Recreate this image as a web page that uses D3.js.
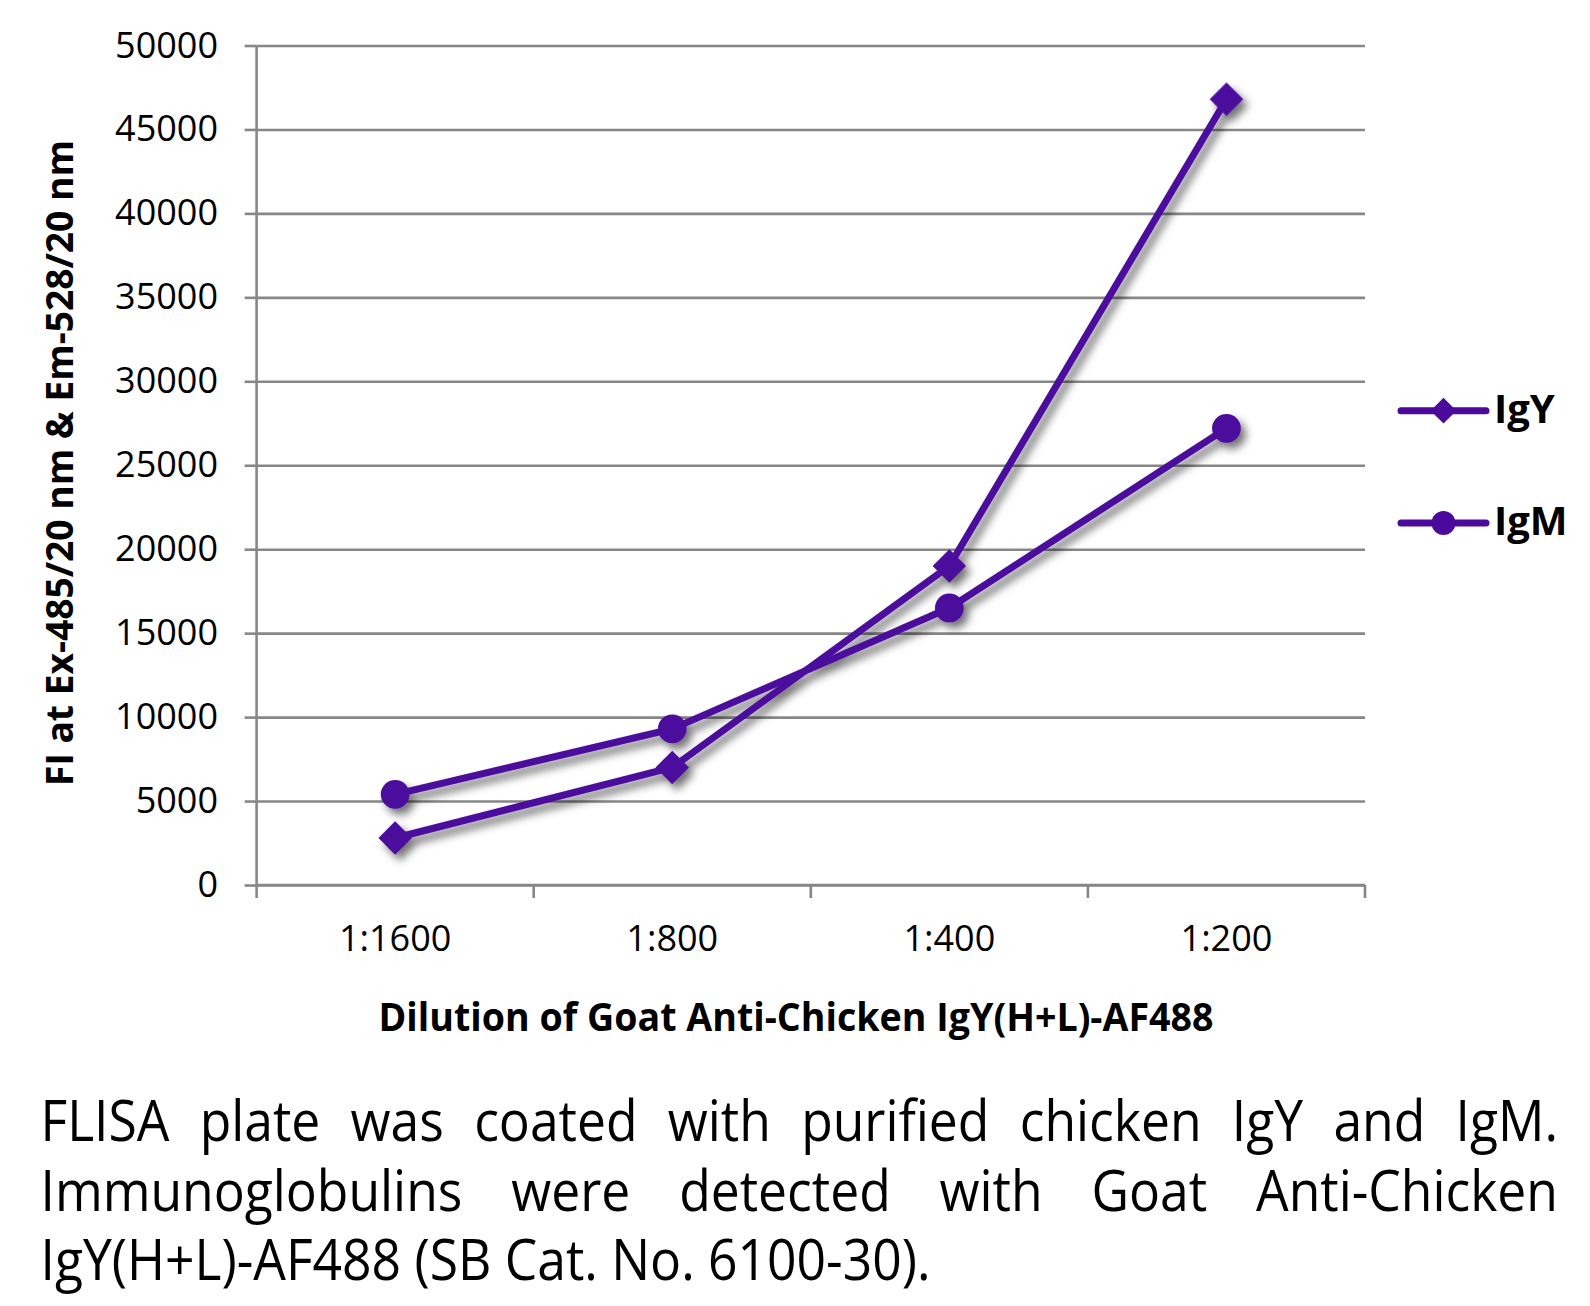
<!DOCTYPE html>
<html>
<head>
<meta charset="utf-8">
<script src="https://cdn.jsdelivr.net/npm/d3@7"></script>
<style>
  html, body { margin: 0; padding: 0; background: #fff; }
  svg { display: block; }
  text { font-family: "Open Sans", "Noto Sans", sans-serif; fill: #000; }
</style>
</head>
<body>
<svg id="chart" width="1590" height="1306"></svg>
<script>
// ---- data ----
const categories = ["1:1600", "1:800", "1:400", "1:200"];
const igY = [2800, 7000, 19000, 46800];
const igM = [5400, 9300, 16500, 27200];
const seriesNames = ["IgY", "IgM"];
const yTicks = [0, 5000, 10000, 15000, 20000, 25000, 30000, 35000, 40000, 45000, 50000];
const yTitle = "FI at Ex-485/20 nm & Em-528/20 nm";
const xTitle = "Dilution of Goat Anti-Chicken IgY(H+L)-AF488";
const captionLines = [
  "FLISA plate was coated with purified chicken IgY and IgM.",
  "Immunoglobulins were detected with Goat Anti-Chicken",
  "IgY(H+L)-AF488 (SB Cat. No. 6100-30)."
];

// ---- layout ----
const svg = d3.select("#chart");
const plot = { left: 256.6, right: 1365, top: 45.5, bottom: 885 };
const color = "#4B0A9C";
const gridColor = "#878787";

const x = d3.scaleBand().domain(categories).range([plot.left, plot.right]).padding(0);
const y = d3.scaleLinear().domain([0, 50000]).range([plot.bottom, plot.top]);

const defs = svg.append("defs");
const f = defs.append("filter").attr("id", "shadow")
  .attr("x", "-20%").attr("y", "-20%").attr("width", "150%").attr("height", "150%");
f.append("feDropShadow").attr("dx", 5).attr("dy", 6).attr("stdDeviation", 4)
  .attr("flood-color", "#000").attr("flood-opacity", 0.55);

// gridlines
svg.append("g")
  .attr("transform", `translate(${plot.left},0)`)
  .call(d3.axisLeft(y).tickValues(yTicks).tickSize(-(plot.right - plot.left)).tickFormat(""))
  .call(g => g.select(".domain").remove())
  .call(g => g.selectAll("line").attr("stroke", gridColor).attr("stroke-width", 2.6));

// y axis
svg.append("g")
  .attr("transform", `translate(${plot.left},0)`)
  .call(d3.axisLeft(y).tickValues(yTicks).tickSize(12).tickPadding(26.6).tickFormat(d3.format("d")))
  .call(g => g.select(".domain").attr("stroke", gridColor).attr("stroke-width", 2.6).attr("d", `M0,${plot.top}V${plot.bottom}`))
  .call(g => g.selectAll(".tick line").attr("stroke", gridColor).attr("stroke-width", 2.6))
  .call(g => g.selectAll(".tick text").attr("font-size", 36).attr("font-family", "'Open Sans', sans-serif").attr("fill", "#000"));

// x axis (labels at band centers)
svg.append("g")
  .attr("transform", `translate(0,${plot.bottom})`)
  .call(d3.axisBottom(x).tickSize(0).tickPadding(48))
  .call(g => g.select(".domain").attr("stroke", gridColor).attr("stroke-width", 2.6).attr("d", `M${plot.left},0H${plot.right}`))
  .call(g => g.selectAll(".tick text").attr("font-size", 36).attr("font-family", "'Open Sans', sans-serif").attr("fill", "#000").attr("dy", "0.5em"));

// x boundary ticks
const bounds = categories.map(c => x(c)).concat([x(categories[categories.length - 1]) + x.bandwidth()]);
svg.append("g").selectAll("line").data(bounds).join("line")
  .attr("x1", d => d).attr("x2", d => d)
  .attr("y1", plot.bottom).attr("y2", plot.bottom + 13)
  .attr("stroke", gridColor).attr("stroke-width", 2.6);

// series
const cx = c => x(c) + x.bandwidth() / 2;
const line = d3.line().x((d, i) => cx(categories[i])).y(d => y(d));
const diamond = d3.symbol().type(d3.symbolSquare).size(560);
const circle = d3.symbol().type(d3.symbolCircle).size(650);

const series = [
  { name: seriesNames[0], values: igY, sym: "diamond" },
  { name: seriesNames[1], values: igM, sym: "circle" }
];

const sg = svg.append("g").attr("filter", "url(#shadow)");
series.forEach(s => {
  const g = sg.append("g");
  g.append("path").attr("d", line(s.values)).attr("fill", "none")
    .attr("stroke", color).attr("stroke-width", 7).attr("stroke-linejoin", "round");
  g.selectAll("path.m").data(s.values).join("path").attr("class", "m")
    .attr("d", s.sym === "diamond" ? diamond : circle)
    .attr("transform", (d, i) => `translate(${cx(categories[i])},${y(d)})` + (s.sym === "diamond" ? " rotate(45)" : ""))
    .attr("fill", color);
});

// legend
const legY = [410.7, 523];
const leg = svg.append("g");
series.forEach((s, i) => {
  const g = leg.append("g").attr("transform", `translate(0,${legY[i]})`);
  g.append("line").attr("x1", 1401).attr("x2", 1486).attr("y1", 0).attr("y2", 0)
    .attr("stroke", color).attr("stroke-width", 7).attr("stroke-linecap", "round");
  g.append("path")
    .attr("d", s.sym === "diamond" ? d3.symbol().type(d3.symbolSquare).size(330)() : d3.symbol().type(d3.symbolCircle).size(450)())
    .attr("transform", `translate(1443.5,0)` + (s.sym === "diamond" ? " rotate(45)" : ""))
    .attr("fill", color);
  g.append("text").attr("x", 1494).attr("y", 12).attr("font-size", 40).attr("font-weight", 700)
    .text(s.name);
});

// axis titles
svg.append("text")
  .attr("transform", `translate(73,463) rotate(-90)`)
  .attr("text-anchor", "middle").attr("font-size", 38).attr("font-weight", 700)
  .attr("textLength", 646).attr("lengthAdjust", "spacingAndGlyphs")
  .text(yTitle);

svg.append("text")
  .attr("x", 796).attr("y", 1031)
  .attr("text-anchor", "middle").attr("font-size", 40).attr("font-weight", 700)
  .attr("textLength", 835).attr("lengthAdjust", "spacingAndGlyphs")
  .text(xTitle);

// caption (justified lines 1-2, left line 3)
const capLeft = 40.5, capRight = 1558, capSize = 56, lastWidth = 890;
const capBase = [1141, 1211, 1280];
const cap = svg.append("g");
const probe = cap.append("text").attr("font-size", capSize).text(captionLines[2]);
const sx = lastWidth / probe.node().getComputedTextLength();
probe.remove();
captionLines.forEach((ln, li) => {
  if (li === captionLines.length - 1) {
    cap.append("text").attr("font-size", capSize)
      .attr("x", capLeft).attr("y", capBase[li])
      .attr("textLength", lastWidth).attr("lengthAdjust", "spacingAndGlyphs")
      .text(ln);
    return;
  }
  const words = ln.split(" ");
  const nodes = words.map(w => cap.append("text").attr("font-size", capSize).text(w));
  const widths = nodes.map(n => n.node().getComputedTextLength() * sx);
  const total = d3.sum(widths);
  const gap = (capRight - capLeft - total) / (words.length - 1);
  let xpos = capLeft;
  nodes.forEach((n, k) => {
    n.attr("x", xpos).attr("y", capBase[li])
      .attr("textLength", widths[k]).attr("lengthAdjust", "spacingAndGlyphs");
    xpos += widths[k] + gap;
  });
});
</script>
</body>
</html>
